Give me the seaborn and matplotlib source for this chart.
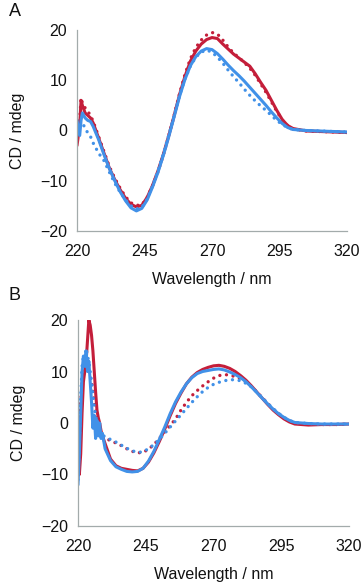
#CD spectra, two panels (A and B), red and blue samples, solid and dotted traces

#import the necessary libraries
import matplotlib
matplotlib.use("Agg")
import matplotlib.pyplot as plt
import seaborn as sns

#wavelengths and CD values (mdeg)
wl_a = [220, 221, 221.5, 222, 223, 224, 225, 226,
        228, 230, 232, 234, 236, 238, 240, 242, 244, 246, 248, 250,
        252, 254, 256, 258, 260, 262, 264, 266, 268, 270, 272, 274,
        276, 278, 280, 282, 284, 286, 288, 290, 292, 294, 296, 298, 300,
        305, 310, 315, 320]

red_solid_a = [-3, 1, 6, 5, 3.5, 3, 2.5, 1.5,
               -1.5, -4.5, -7.5, -9.8, -11.8, -13.5, -14.7, -15.2, -14.9, -13.3, -10.9, -8,
               -4.7, -1, 3, 7.2, 10.8, 13.8, 15.8, 17.2, 18.1, 18.5, 18.3, 17.2,
               16.2, 15.2, 14.4, 13.6, 12.8, 11.3, 9.6, 8, 6, 4, 2.2, 1, 0.4,
               -0.1, -0.2, -0.3, -0.4]
red_dot_a = [-2, 2, 6.5, 5.5, 4.5, 3.8, 3, 1.8,
             -1.2, -4.2, -7.2, -9.5, -11.5, -13.2, -14.4, -14.9, -14.8, -13.3, -11, -8.2,
             -4.8, -1, 3.1, 7.4, 11.2, 14.3, 16.5, 18, 19, 19.5, 19.2, 18,
             16.6, 15.4, 14.5, 13.5, 12.4, 11, 9.3, 7.6, 5.7, 3.8, 2.1, 1, 0.3,
             -0.1, -0.2, -0.3, -0.4]
blue_solid_a = [2, -1, 2, 3.5, 2.5, 2, 1.8, 0.8,
                -1.8, -4.8, -7.6, -10, -12.2, -14, -15.4, -16, -15.5, -13.8, -11.2, -8.3,
                -4.9, -1.2, 2.8, 6.8, 10.2, 12.9, 14.7, 15.8, 16.3, 16.1, 15.3, 14.2,
                13, 11.9, 10.9, 9.8, 8.6, 7.4, 6.2, 5, 3.7, 2.5, 1.4, 0.6, 0.2,
                0, -0.1, -0.2, -0.3]
blue_dot_a = [0, 0.5, 1.5, 1.5, 0.5, -0.5, -1.2, -2.5,
              -4.5, -6, -8.3, -10.5, -12.3, -13.8, -15, -15.6, -15.3, -13.6, -11, -8,
              -4.6, -0.9, 3, 7, 10.3, 12.8, 14.6, 15.6, 16, 15.6, 14.6, 13.4,
              12, 10.7, 9.5, 8.2, 7, 5.9, 4.9, 4, 3, 2, 1.2, 0.6, 0.2,
              0, -0.1, -0.2, -0.3]

wl_b = [220, 220.5, 221, 221.5, 222, 222.5, 223, 223.5, 224, 224.5,
        225, 225.5, 226, 226.5, 227, 227.5, 228, 228.5, 229, 230,
        232, 234, 236, 238, 240, 242, 244, 246, 248, 250,
        252, 254, 256, 258, 260, 262, 264, 266, 268, 270,
        272, 274, 276, 278, 280, 282, 284, 286, 288, 290,
        292, 294, 296, 298, 300, 305, 310, 315, 320]

red_solid_b = [-4, -10, -6, 2, 8, 10, 12, 16, 20, 19,
               17, 14, 10, 6, 2.5, 1, 0, -1.5, -2.5, -4,
               -7, -8.3, -8.8, -9, -9.2, -9.3, -8.8, -7.6, -5.8, -3.6,
               -1.2, 1.4, 3.8, 5.8, 7.6, 8.9, 9.8, 10.4, 10.8, 11.1,
               11.2, 11, 10.6, 10, 9.2, 8.3, 7.2, 6, 4.8, 3.6,
               2.5, 1.6, 0.8, 0.2, -0.2, -0.4, -0.3, -0.3, -0.2]
red_dot_b = [-4, -2, 4, 8, 9, 10, 12, 11, 10, 9,
             8, 6, 4, 2, 0.5, -0.5, -1.5, -2, -2.5, -3,
             -3.4, -3.9, -4.4, -5, -5.5, -5.8, -5.7, -5.1, -4.2, -3,
             -1.7, -0.5, 0.8, 2.5, 4, 5.3, 6.3, 7.2, 8, 8.7,
             9.2, 9.4, 9.3, 9, 8.6, 8, 7.1, 6, 4.9, 3.8,
             2.7, 1.8, 1, 0.4, 0, -0.2, -0.3, -0.3, -0.2]
blue_solid_b = [-12, -6, 2, 10, 13, 11, 14, 10, 12, 8,
                4, -1, 1.5, -3, 0.5, -2.5, 0, -3, -2, -5,
                -7.3, -8.5, -9, -9.4, -9.5, -9.4, -8.8, -7.4, -5.5, -3.2,
                -0.8, 1.8, 4.1, 6, 7.6, 8.8, 9.6, 10, 10.2, 10.4,
                10.5, 10.3, 9.9, 9.4, 8.8, 8, 7, 5.9, 4.8, 3.7,
                2.7, 1.8, 1.1, 0.5, 0.1, -0.1, -0.2, -0.2, -0.2]
blue_dot_b = [-11, -4, 5, 11, 13, 12.5, 14.5, 13, 12, 10,
              8, 5.5, 3, 1.5, 0, -1, -1.5, -2, -2.3, -2.7,
              -3.2, -3.7, -4.3, -4.9, -5.4, -5.7, -5.6, -5, -4.2, -3.2,
              -2, -0.8, 0.4, 1.6, 2.8, 4, 5.1, 6.1, 6.9, 7.5,
              7.9, 8.2, 8.4, 8.4, 8.2, 7.7, 7, 6, 4.9, 3.8,
              2.8, 1.9, 1.1, 0.5, 0.1, -0.1, -0.2, -0.2, -0.2]

x_ticks = [220, 245, 270, 295, 320]
y_ticks = [-20, -10, 0, 10, 20]

red = "#c41e3a"
blue = "#4191e8"
spine_grey = "#a3abab"

sns.set_style("white")
plt.rcParams['font.family'] = ['Liberation Sans', 'DejaVu Sans']

fig = plt.figure(figsize=(3.64, 5.82), dpi=100)
ax_a = fig.add_axes([77/364, 1 - 231/582, 270/364, 201/582])
ax_b = fig.add_axes([78/364, 1 - 526/582, 271/364, 206/582])

dots = (0, (0.01, 2.0))

panels = [
    (ax_a, wl_a, red_dot_a, red_solid_a, blue_dot_a, blue_solid_a, "A", 1 - 12/582),
    (ax_b, wl_b, red_dot_b, red_solid_b, blue_dot_b, blue_solid_b, "B", 1 - 296/582),
]

for ax, wl, rd, rs, bd, bs, letter, ly in panels:
    #dotted traces first so the solid ones sit on top
    sns.lineplot(x=wl, y=rd, ax=ax, color=red, linewidth=2.4, linestyle=dots,
                 dash_capstyle='round', sort=False)
    sns.lineplot(x=wl, y=rs, ax=ax, color=red, linewidth=2.2, sort=False)
    sns.lineplot(x=wl, y=bd, ax=ax, color=blue, linewidth=2.4, linestyle=dots,
                 dash_capstyle='round', sort=False)
    sns.lineplot(x=wl, y=bs, ax=ax, color=blue, linewidth=2.2, sort=False)

    ax.set_xlim(220, 320)
    ax.set_ylim(-20, 20)
    ax.set_xticks(x_ticks)
    ax.set_yticks(y_ticks)
    ax.tick_params(axis='y', direction='out', length=4, width=0.8,
                   color=spine_grey, labelsize=11.5, labelcolor='#111111', pad=3)
    ax.tick_params(axis='x', direction='inout', length=5, width=0.8,
                   color=spine_grey, labelsize=11.5, labelcolor='#111111', pad=7)
    for side in ['top', 'right']:
        ax.spines[side].set_visible(False)
    for side in ['left', 'bottom']:
        ax.spines[side].set_color(spine_grey)
        ax.spines[side].set_linewidth(0.9)
    ax.set_xlabel("Wavelength / nm", fontsize=11.5, color='#111111', labelpad=9)
    ax.set_ylabel("CD / mdeg", fontsize=11.5, color='#111111', labelpad=11)
    fig.text(15/364, ly, letter, fontsize=13, color='#111111', ha='center', va='center')

#save the plot as a png to the current folder
fig.savefig("out.png", dpi=100)
plt.close()
